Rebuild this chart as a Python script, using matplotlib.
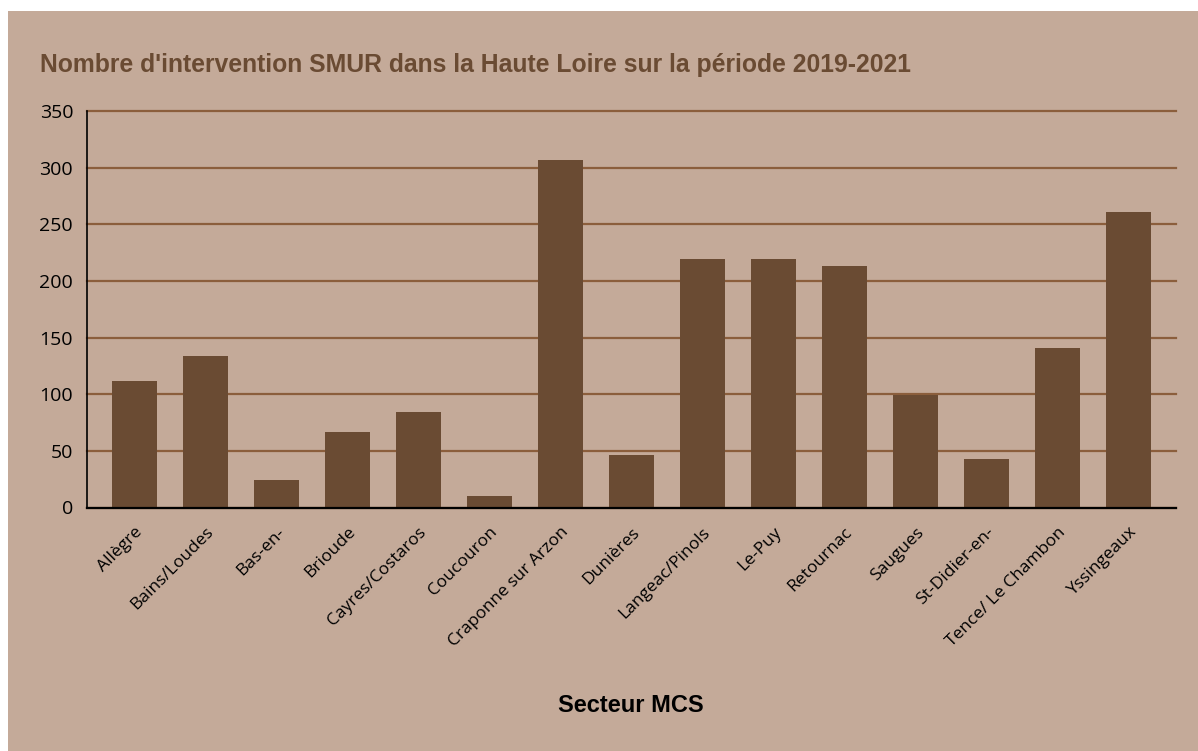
import matplotlib.pyplot as plt
from matplotlib.patches import Rectangle

secteurs = ['Allègre', 'Bains/Loudes', 'Bas-en-', 'Brioude', 'Cayres/Costaros',
            'Coucouron', 'Craponne sur Arzon', 'Dunières', 'Langeac/Pinols',
            'Le-Puy', 'Retournac', 'Saugues', 'St-Didier-en-',
            'Tence/ Le Chambon', 'Yssingeaux']
interventions = [112, 134, 24, 67, 84, 10, 307, 46, 219, 219, 213, 99, 43, 141, 261]
yticks = [0, 50, 100, 150, 200, 250, 300, 350]

bg = '#c4aa99'
brown = '#6a4b33'

fig = plt.figure(figsize=(11.98, 7.51), dpi=100, facecolor='white')
W, H = 1198, 751
# tan panel behind the chart
fig.add_artist(Rectangle((8 / W, 0), 1 - 8 / W, 1 - 11 / H,
                         transform=fig.transFigure, facecolor=bg,
                         edgecolor='none', zorder=-10))

left, right, top, bottom = 87, 1176, 111, 507.5
ax = fig.add_axes([left / W, 1 - bottom / H, (right - left) / W, (bottom - top) / H])
ax.set_facecolor(bg)

x = range(len(secteurs))
ax.bar(x, interventions, width=0.635, color=brown, zorder=3)

ax.set_ylim(0, 350)
ax.set_xlim(-0.67, len(secteurs) - 0.33)
ax.set_yticks(yticks)
ax.yaxis.grid(True, color='#8b5e3c', linewidth=1.6, zorder=0)
for gl in ax.get_ygridlines():
    gl.set_clip_on(False)
ax.set_axisbelow(True)

for s in ['top', 'right']:
    ax.spines[s].set_visible(False)
ax.spines['left'].set_color('black')
ax.spines['left'].set_linewidth(1.2)
ax.spines['bottom'].set_color('black')
ax.spines['bottom'].set_linewidth(1.6)
ax.spines['bottom'].set_zorder(4)
ax.tick_params(axis='y', length=0, labelsize=14, colors='black', pad=10)
ax.tick_params(axis='x', length=0, colors='black', pad=12)
ax.set_xticks(list(x))
ax.set_xticklabels(secteurs, rotation=45, ha='right', rotation_mode='anchor',
                   fontfamily='Open Sans', fontsize=12.5)
for lab in ax.get_yticklabels():
    lab.set_fontfamily('Open Sans')

fig.text(40 / W, 1 - 65 / H,
         "Nombre d'intervention SMUR dans la Haute Loire sur la période 2019-2021",
         fontfamily='Liberation Sans', fontweight='bold', fontsize=17.8,
         color=brown, va='center', ha='left')
fig.text(631 / W, 1 - 706 / H, 'Secteur MCS', fontfamily='Liberation Sans',
         fontweight='bold', fontsize=17, color='black', va='center', ha='center')

fig.savefig('out.png', dpi=100, facecolor='white')
